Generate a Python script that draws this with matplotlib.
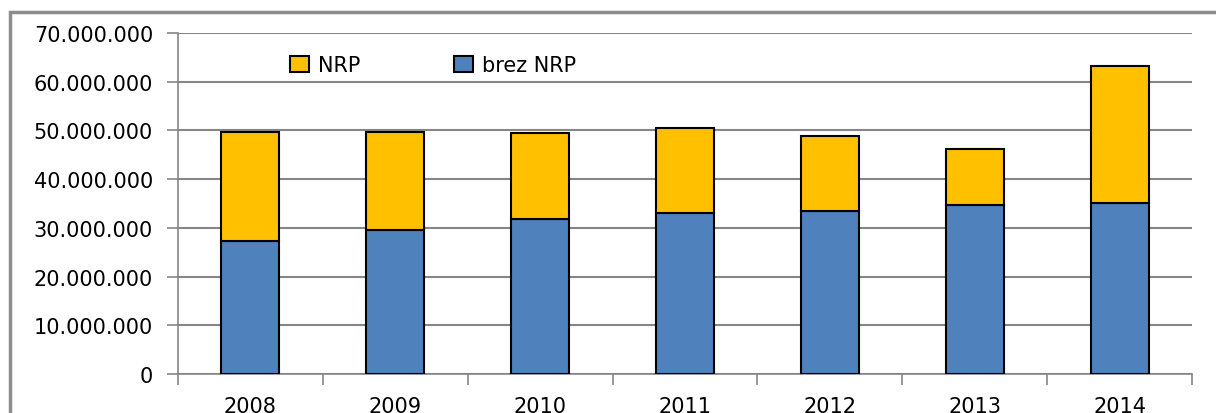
import numpy as np
import matplotlib
matplotlib.use("Agg")
import matplotlib.pyplot as plt
from matplotlib.patches import Rectangle
from matplotlib.ticker import FuncFormatter, MultipleLocator

years = ["2008", "2009", "2010", "2011", "2012", "2013", "2014"]
brez_nrp = [27.3e6, 29.6e6, 31.8e6, 33.0e6, 33.5e6, 34.6e6, 35.2e6]
total = [49.7e6, 49.7e6, 49.5e6, 50.5e6, 48.9e6, 46.1e6, 63.3e6]
nrp = [t - b for t, b in zip(total, brez_nrp)]

BLUE = "#4F81BD"
YELLOW = "#FFC000"
GRID = "#868686"

plt.rcParams["font.family"] = ["DejaVu Sans"]

fig = plt.figure(figsize=(12.16, 4.14), dpi=100)
ax = fig.add_axes([178 / 1216, 1 - 375 / 414, (1192 - 178) / 1216, 341 / 414])

# outer chart frame
fig.patches.append(Rectangle((10 / 1216, -0.1), 1.2, 0.1 + (414 - 13) / 414,
                             transform=fig.transFigure, fill=False,
                             edgecolor="#8c8c8c", lw=2.5))

x = np.arange(len(years))
ax.bar(x, brez_nrp, width=0.4, color=BLUE, edgecolor="black", lw=1.5,
       label="brez NRP", zorder=3)
ax.bar(x, nrp, width=0.4, bottom=brez_nrp, color=YELLOW, edgecolor="black",
       lw=1.5, label="NRP", zorder=3)

ax.set_xlim(-0.5, len(years) - 0.5)
ax.set_ylim(0, 70e6)
ax.yaxis.set_major_locator(MultipleLocator(10e6))
ax.yaxis.set_major_formatter(
    FuncFormatter(lambda v, p: f"{v:,.0f}".replace(",", ".")))
ax.grid(axis="y", color=GRID, lw=1.5, zorder=0)

ax.set_xticks(x)
ax.set_xticklabels(years)
ax.set_xticks(np.arange(-0.5, len(years)), minor=True)
ax.tick_params(axis="x", which="major", length=0, pad=16, labelsize=15)
ax.tick_params(axis="x", which="minor", length=8, color=GRID, width=1.2)
ax.tick_params(axis="y", length=8, color=GRID, width=1.2, pad=10,
               labelsize=15)

for s in ["top", "right"]:
    ax.spines[s].set_visible(False)
for s in ["left", "bottom"]:
    ax.spines[s].set_color(GRID)
    ax.spines[s].set_linewidth(1.2)

h, l = ax.get_legend_handles_labels()
ax.legend(h[::-1], l[::-1], ncol=2, frameon=False, fontsize=15,
          loc="upper left", bbox_to_anchor=(0.092, 0.99),
          handlelength=0.9, handleheight=0.8, handletextpad=0.45,
          columnspacing=4.5)

fig.savefig("out.png", dpi=100)
